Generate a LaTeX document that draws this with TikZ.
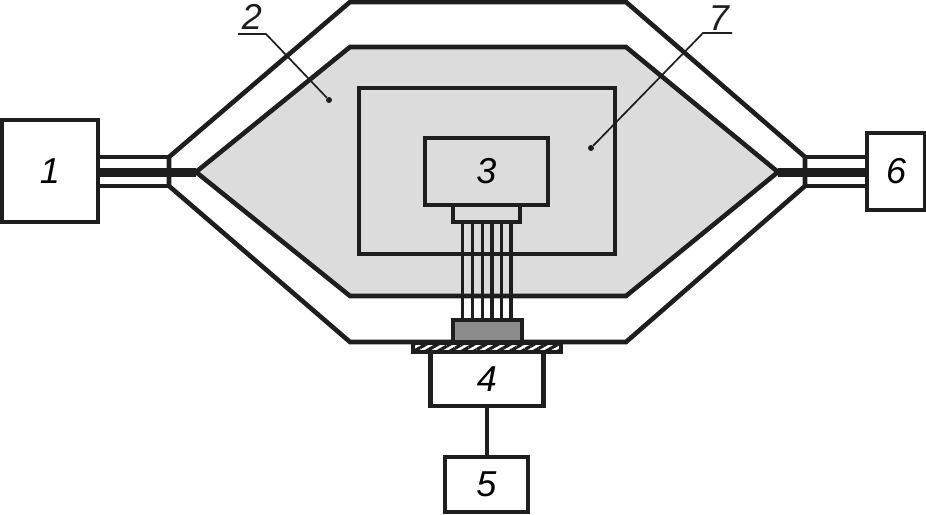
\documentclass[tikz,border=0pt]{standalone}
\usepackage{fontspec}
\setmainfont{Liberation Sans}
\usetikzlibrary{positioning,patterns.meta}
\definecolor{chamber}{HTML}{DCDCDC}
\definecolor{sensor}{HTML}{8C8C8C}
\definecolor{ink}{HTML}{1E1E1E}

\begin{document}
\begin{tikzpicture}[
    x=1pt, y=-1pt,
    unit_box/.style={rectangle, draw=ink, fill=white, line width=4.4pt, outer sep=0pt, inner sep=0pt, align=center, font=\fontsize{36}{36}\selectfont\itshape},
    wall/.style={draw=ink, line width=4.6pt, line join=miter},
    wire/.style={draw=ink, line width=3.5pt},
    band/.style={draw=ink, line width=9pt},
    leader/.style={draw=ink, line width=1.7pt},
    callout/.style={inner sep=0pt, font=\fontsize{36}{36}\selectfont\itshape, text=ink},
    spot/.style={circle, fill=ink, inner sep=0pt, minimum size=6pt}
]
    \useasboundingbox (0,0) rectangle (926,514);

    % outer and inner chamber
    \draw[wall] (169,157) -- (350,2) -- (626,2) -- (805,157) -- (805,186) -- (626,342) -- (350,342) -- (169,186) -- cycle;
    \draw[wall, fill=chamber] (196,172) -- (350,47) -- (626,47) -- (778,172) -- (626,296) -- (350,296) -- cycle;

    \node[unit_box, fill=chamber, minimum width=256pt, minimum height=166pt] (shield) at (487,171) {};

    % units
    \node[unit_box, minimum width=96pt, minimum height=102pt] (src) at (50,171) {1};
    \node[unit_box, minimum width=58pt, minimum height=77pt] (det) at (896,171.5) {6};
    \node[unit_box, fill=chamber, minimum width=123pt, minimum height=67pt] (cam) at (486.5,171.5) {3};
    \node[unit_box, fill=chamber, minimum width=67pt, minimum height=17pt, below=0pt of cam] (head) {};
    \node[unit_box, fill=sensor, minimum width=69pt, minimum height=22pt] (chip) at (487.5,331) {};
    \node[unit_box, pattern={Lines[angle=30,distance=6pt,line width=3.2pt]}, pattern color=ink, minimum width=148pt, minimum height=9pt] (plate) at (487,347.5) {};
    \node[unit_box, minimum width=113pt, minimum height=54pt, below=0pt of plate] (stage) {4};
    \node[unit_box, minimum width=83pt, minimum height=55pt] (ctrl) at (486.5,484.5) {5};

    % fibre bundle
    \foreach \dx in {-24,-14,-4,5.5,15,24.5}
        \draw[wire] ([xshift=\dx pt]head.south) -- ([xshift=\dx pt]head.south |- chip.north);
    \draw[wall] (stage.south) -- (stage.south |- ctrl.north);

    % feed lines
    \coordinate (lefttop) at (169,157);
    \coordinate (leftbot) at (169,186);
    \coordinate (lefttip) at (196,172);
    \coordinate (righttop) at (805,157);
    \coordinate (rightbot) at (805,186);
    \coordinate (righttip) at (778,172);
    \draw[wall] (src.east |- lefttop) -- (lefttop);
    \draw[wall] (src.east |- leftbot) -- (leftbot);
    \draw[band] (src.east |- lefttip) -- (lefttip);
    \draw[wall] (det.west |- righttop) -- (righttop);
    \draw[wall] (det.west |- rightbot) -- (rightbot);
    \draw[band] (det.west |- righttip) -- (righttip);

    % callouts
    \node[callout] (lab2) at (252,17) {2};
    \node[callout] (lab7) at (719,18) {7};
    \node[spot] (dot2) at (329,100) {};
    \node[spot] (dot7) at (591,148) {};
    \coordinate (bend2) at (266,34);
    \coordinate (bend7) at (703,33);
    \draw[leader] (238,34) -- (bend2) -- (dot2);
    \draw[leader] (732,33) -- (bend7) -- (dot7);
\end{tikzpicture}
\end{document}
